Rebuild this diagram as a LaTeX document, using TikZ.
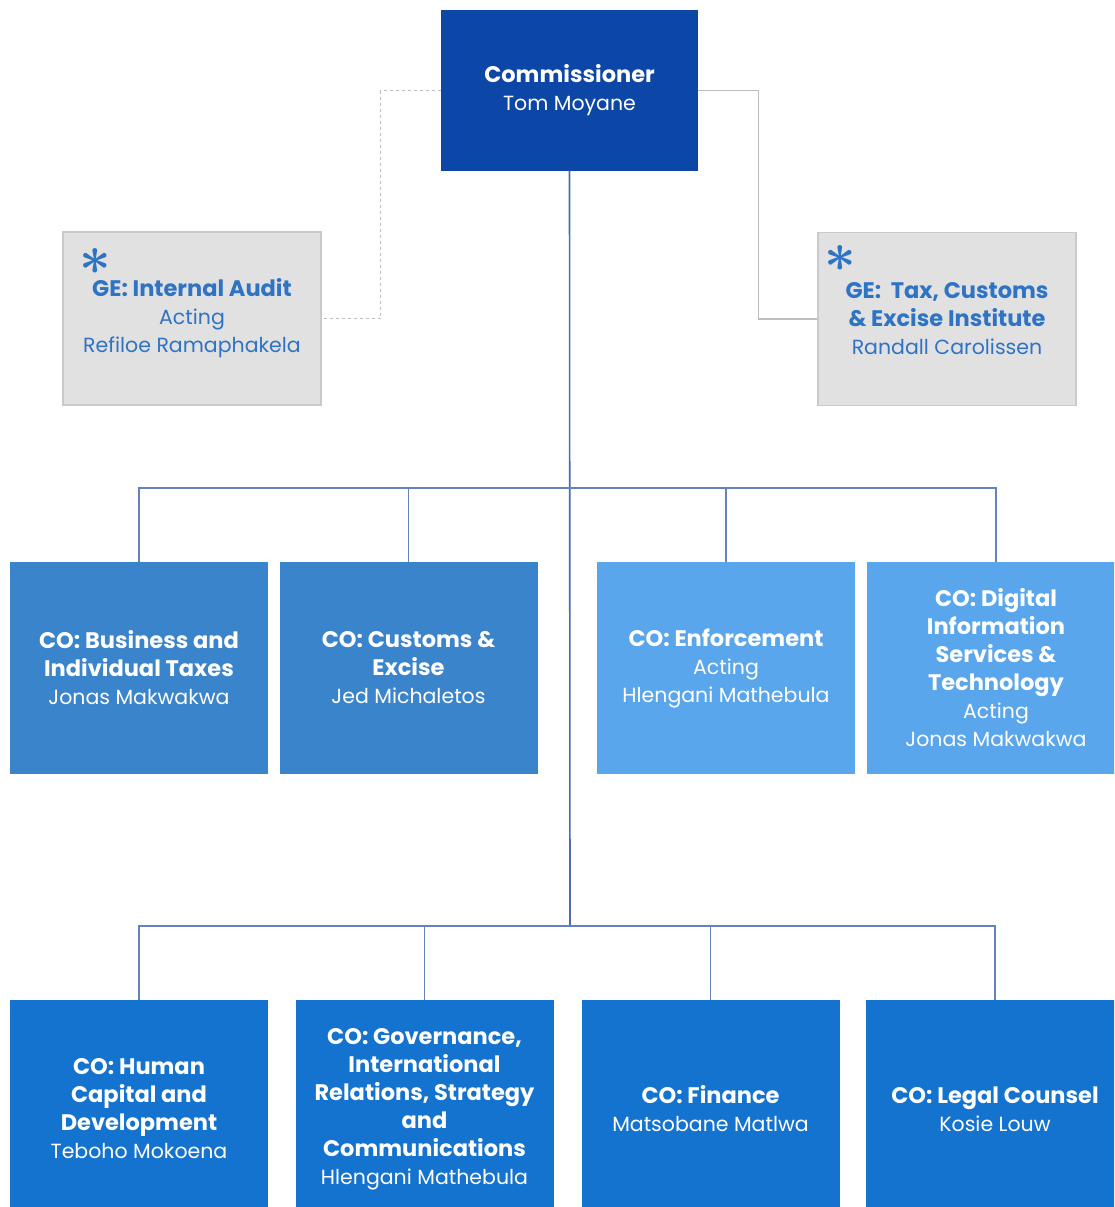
\documentclass[tikz,border=0pt]{standalone}
\usepackage{fontspec}
\setmainfont{Poppins}
\usetikzlibrary{positioning}
\definecolor{Navy}{HTML}{0C46A6}
\definecolor{Steel}{HTML}{3A84CC}
\definecolor{Sky}{HTML}{59A6EC}
\definecolor{Royal}{HTML}{1473CF}
\definecolor{Mist}{HTML}{E1E1E1}
\definecolor{MistRule}{HTML}{CACACA}
\definecolor{Ink}{HTML}{2F73C4}
\definecolor{Wire}{HTML}{4A6BB4}
\definecolor{GreyWire}{HTML}{BDBDBD}
\newcommand{\post}[1]{{\fontsize{22.5}{28}\selectfont\bfseries #1}}
\tikzset{
  unit/.style={inner sep=0pt,align=center,text=white,font=\fontsize{20.5}{28}\selectfont},
  head/.style={unit,fill=Navy,minimum width=257pt,minimum height=160pt},
  ge/.style={unit,draw=MistRule,fill=Mist,line width=1.5pt,minimum width=258pt,minimum height=173pt,text=Ink},
  corow/.style={unit,minimum width=258pt,minimum height=212pt},
  colow/.style={unit,fill=Royal,minimum width=258pt,minimum height=218pt},
  flag/.style={inner sep=0pt,text=Ink,font=\normalsize\boldmath,scale=5.5},
  trunk/.style={draw=Wire,line width=1.6pt},
  wire/.style={draw=Wire!85,line width=1.3pt},
  greywire/.style={draw=GreyWire,line width=1.2pt},
  dashwire/.style={draw=GreyWire,line width=1.2pt,dashed}
}
\begin{document}
\begin{tikzpicture}[x=1pt,y=-1pt]
  \useasboundingbox (0,0) rectangle (1114,1207);
  \clip (0,0) rectangle (1114,1207);
  % top
  \node[head] (comm) at (569.5,90.5) {\post{Commissioner}\\Tom Moyane};
  \node[ge] (audit) at (192,318.5) {\post{GE: Internal Audit}\\Acting\\Refiloe Ramaphakela};
  \node[ge] (tce) at (947,319) {\post{GE:\ \ Tax, Customs}\\\post{\& Excise Institute}\\Randall Carolissen};
  \node[flag] (auditmark) at (95,262) {$\ast$};
  \node[flag] (tcemark) at (840,259) {$\ast$};
  \draw[dashwire] (comm.west) -- ++(-60,0) |- (audit.east);
  \draw[greywire] (comm.east) -- ++(60,0) |- (tce.west);
  % first row
  \coordinate (bus1) at (570,488);
  \coordinate (bus2) at (570,926);
  \node[corow,fill=Steel] (bit) at (139,668) {\post{CO: Business and}\\\post{Individual Taxes}\\Jonas Makwakwa};
  \node[corow,fill=Steel] (cus) at (408.5,668) {\post{CO: Customs \&}\\\post{Excise}\\Jed Michaletos};
  \node[corow,fill=Sky] (enf) at (726,668) {\post{CO: Enforcement}\\Acting\\Hlengani Mathebula};
  \node[corow,fill=Sky] (dis) at (996,668) {\post{CO: Digital}\\\post{Information}\\\post{Services \&}\\\post{Technology}\\Acting\\Jonas Makwakwa};
  % second row
  \node[colow] (hcd) at (139,1109) {\post{CO: Human}\\\post{Capital and}\\\post{Development}\\Teboho Mokoena};
  \node[colow] (gov) at (424.5,1109) {\post{CO: Governance,}\\\post{International}\\\post{Relations, Strategy}\\\post{and}\\\post{Communications}\\Hlengani Mathebula};
  \node[colow] (fin) at (710.5,1109) {\post{CO: Finance}\\Matsobane Matlwa};
  \node[colow] (leg) at (995,1109) {\post{CO: Legal Counsel}\\Kosie Louw};
  \draw[trunk] (comm.south) -- (bus2);
  \foreach \n in {bit,cus,enf,dis} \draw[wire] (\n.north) |- (bus1);
  \foreach \n in {hcd,gov,fin,leg} \draw[wire] (\n.north) |- (bus2);
\end{tikzpicture}
\end{document}
